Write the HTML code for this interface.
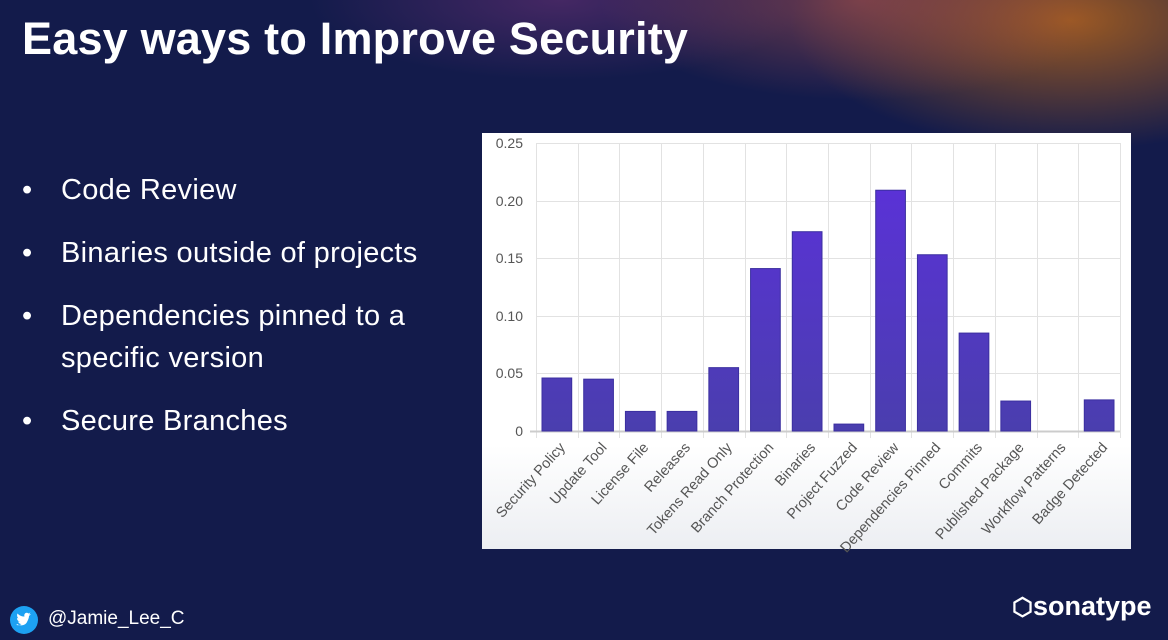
<!DOCTYPE html>
<html><head><meta charset="utf-8"><style>
body{margin:0;width:1168px;height:640px;overflow:hidden;font-family:"Liberation Sans",sans-serif;
background:radial-gradient(ellipse 260px 100px at 860px 0px,rgba(170,80,80,.6),transparent),
radial-gradient(ellipse 280px 130px at 1070px 20px,rgba(200,110,20,.75),transparent),
radial-gradient(ellipse 250px 80px at 560px 0px,rgba(110,50,120,.55),transparent),#131b4b;position:relative}
h1{position:absolute;left:22px;top:13px;margin:0;color:#fff;font-size:45px;font-weight:bold;letter-spacing:0.2px}
.b{position:absolute;left:22px;color:#fff;font-size:29px;line-height:42px;letter-spacing:0.3px}
.b span{position:absolute;left:39px;white-space:nowrap}
.panel{position:absolute;left:482px;top:133px;width:649px;height:416px;background:linear-gradient(#fff 75%,#eceef2)}
</style></head><body>
<h1>Easy ways to Improve Security</h1>
<div class="b" style="top:169px">•<span>Code Review</span></div>
<div class="b" style="top:232px">•<span>Binaries outside of projects</span></div>
<div class="b" style="top:295px">•<span>Dependencies pinned to a<br>specific version</span></div>
<div class="b" style="top:400px">•<span>Secure Branches</span></div>
<svg style="position:absolute;left:10px;top:606px" width="28" height="28" viewBox="0 0 28 28"><circle cx="14" cy="14" r="14" fill="#1da1f2"/><path d="M7 18c3 2 8 2 10-2 1-2 2-4 2-6l2-2-2 .5 1.5-2-2 1c-2-2-5 0-4 3-3 0-5-1-7-3-1 2 0 4 1 5l-1.5-.5c0 2 1 3 3 3.5h-2c.5 1.5 2 2.5 3.5 2.5-1.5 1-3 1.5-5 1z" fill="#fff"/></svg>
<div style="position:absolute;left:48px;top:608px;color:#fff;font-size:19px">@Jamie_Lee_C</div>
<div style="position:absolute;left:1012px;top:591px;color:#fff;font-size:27px;font-weight:bold"><span style="font-size:24px">⬡</span>sonatype</div>
<div class="panel"></div>
<svg style="position:absolute;left:0;top:0" width="1168" height="640">
<g stroke="#e2e2e2" stroke-width="1">
<line x1="536" x2="1120" y1="143.5" y2="143.5"/><line x1="536" x2="1120" y1="201.5" y2="201.5"/><line x1="536" x2="1120" y1="258.5" y2="258.5"/><line x1="536" x2="1120" y1="316.5" y2="316.5"/><line x1="536" x2="1120" y1="373.5" y2="373.5"/>
</g>
<g id="v" stroke="#e2e2e2"></g>
<line x1="530" x2="1120" y1="431.5" y2="431.5" stroke="#ccc" stroke-width="2"/>
<g font-size="14" fill="#555" text-anchor="end">
<text x="523" y="148">0.25</text><text x="523" y="206">0.20</text><text x="523" y="263">0.15</text><text x="523" y="321">0.10</text><text x="523" y="378">0.05</text><text x="523" y="436">0</text>
</g>
<defs><linearGradient id="g" gradientUnits="userSpaceOnUse" x1="0" y1="190" x2="0" y2="431"><stop offset="0" stop-color="#5a32d6"/><stop offset="1" stop-color="#4a3eae"/></linearGradient></defs>
<g id="bars"></g><g id="lab" font-size="14.5" fill="#555" text-anchor="end"></g>
</svg>
<script>
var vals=[.046,.045,.017,.017,.055,.141,.173,.006,.209,.153,.085,.026,0,.027];
var names=["Security Policy","Update Tool","License File","Releases","Tokens Read Only","Branch Protection","Binaries","Project Fuzzed","Code Review","Dependencies Pinned","Commits","Published Package","Workflow Patterns","Badge Detected"];
var ns="http://www.w3.org/2000/svg",w=584/14,v=document.getElementById("v"),b=document.getElementById("bars"),l=document.getElementById("lab");
function el(t,a,p){var e=document.createElementNS(ns,t);for(var k in a)e.setAttribute(k,a[k]);p.appendChild(e);return e}
for(var i=0;i<=14;i++){var x=Math.round(536+i*w)+.5;el("line",{x1:x,x2:x,y1:143,y2:438},v)}
for(i=0;i<14;i++){var x0=536+i*w,h=vals[i]*1152;
if(h>0)el("rect",{x:x0+6,y:431-h,width:w-12,height:h,fill:"url(#g)",stroke:"#3b2fa0","stroke-width":1},b);
var cx=x0+w/2+9,t=el("text",{x:cx,y:448,transform:"rotate(-48 "+cx+" 448)"},l);t.textContent=names[i];}
</script>
</body></html>
